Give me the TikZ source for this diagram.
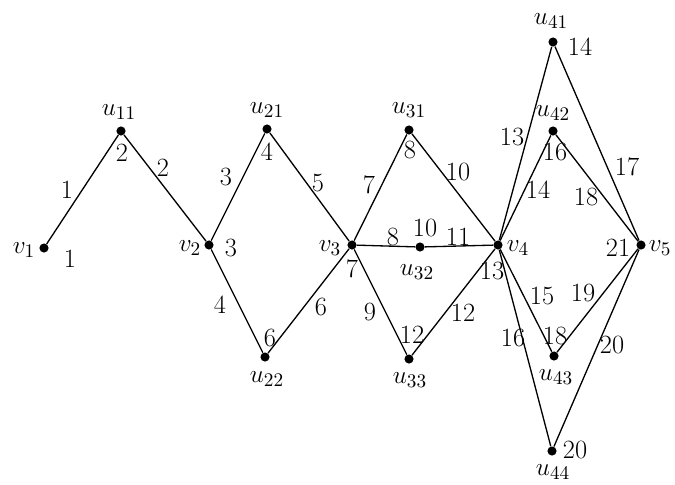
\documentclass[tikz,border=0pt]{standalone}
\usepackage{amsmath}
\usetikzlibrary{positioning}
\tikzset{
    vtx/.style={circle, fill=black, inner sep=0pt, minimum size=5.2pt},
    vname/.style={font=\fontsize{15}{17}\selectfont, inner sep=0pt},
    num/.style={font=\fontsize{15}{17}\selectfont, inner sep=0pt},
    lnk/.style={line width=0.75pt},
}

\begin{document}
\begin{tikzpicture}[x=0.02cm, y=-0.02cm]
    \useasboundingbox (0,0) rectangle (675,484);

    % vertices
    \node[vtx] (v1) at (44,248) {};
    \node[vtx] (u11) at (121,131) {};
    \node[vtx] (v2) at (209,245) {};
    \node[vtx] (u21) at (267,129) {};
    \node[vtx] (u22) at (265,357) {};
    \node[vtx] (v3) at (352,245) {};
    \node[vtx] (u31) at (409,130) {};
    \node[vtx] (u32) at (420,247) {};
    \node[vtx] (u33) at (409,359) {};
    \node[vtx] (v4) at (498,245) {};
    \node[vtx] (u41) at (553,42) {};
    \node[vtx] (u42) at (553,131) {};
    \node[vtx] (u43) at (554,356) {};
    \node[vtx] (u44) at (552,451) {};
    \node[vtx] (v5) at (641,245) {};

    % edges
    \draw[lnk] (v1) -- (u11) -- (v2);
    \draw[lnk] (v2) -- (u21) -- (v3);
    \draw[lnk] (v2) -- (u22) -- (v3);
    \draw[lnk] (v3) -- (u31) -- (v4);
    \draw[lnk] (v3) -- (u32) -- (v4);
    \draw[lnk] (v3) -- (u33) -- (v4);
    \draw[lnk] (v4) -- (u41) -- (v5);
    \draw[lnk] (v4) -- (u42) -- (v5);
    \draw[lnk] (v4) -- (u43) -- (v5);
    \draw[lnk] (v4) -- (u44) -- (v5);

    % vertex names
    \node[vname] (nv1) at (24,250) {$v_1$};
    \node[vname] (nu11) at (119,112) {$u_{11}$};
    \node[vname] (nv2) at (190,248) {$v_2$};
    \node[vname] (nu21) at (267,110) {$u_{21}$};
    \node[vname] (nu22) at (267,379) {$u_{22}$};
    \node[vname] (nv3) at (330,248) {$v_3$};
    \node[vname] (nu31) at (409,110) {$u_{31}$};
    \node[vname] (nu32) at (417,272) {$u_{32}$};
    \node[vname] (nu33) at (410,380) {$u_{33}$};
    \node[vname] (nv4) at (518,248) {$v_4$};
    \node[vname] (nu41) at (551,21) {$u_{41}$};
    \node[vname] (nu42) at (553,113) {$u_{42}$};
    \node[vname] (nu43) at (556,377) {$u_{43}$};
    \node[vname] (nu44) at (553,472) {$u_{44}$};
    \node[vname] (nv5) at (660,248) {$v_5$};

    % vertex numbers
    \node[num] (a1) at (70,259) {1};
    \node[num] (a2) at (122,153) {2};
    \node[num] (a3) at (231,248) {3};
    \node[num] (a4) at (267,152) {4};
    \node[num] (a6) at (270,338) {6};
    \node[num] (a7) at (352,269) {7};
    \node[num] (a8) at (410,150) {8};
    \node[num] (a10) at (425,228) {10};
    \node[num] (a12) at (412,335) {12};
    \node[num] (a13) at (492,271) {13};
    \node[num] (a14) at (580,47) {14};
    \node[num] (a16) at (555,152) {16};
    \node[num] (a18) at (555,336) {18};
    \node[num] (a20) at (575,450) {20};
    \node[num] (a21) at (618,248) {21};

    % edge numbers
    \node[num] (e1) at (67,190) {1};
    \node[num] (e2) at (163,168) {2};
    \node[num] (e3) at (226,177) {3};
    \node[num] (e4) at (220,305) {4};
    \node[num] (e5) at (318,183) {5};
    \node[num] (e6) at (321,307) {6};
    \node[num] (e7) at (369,185) {7};
    \node[num] (e8) at (393,237) {8};
    \node[num] (e9) at (370,312) {9};
    \node[num] (e10) at (458,172) {10};
    \node[num] (e11) at (458,237) {11};
    \node[num] (e12) at (463,313) {12};
    \node[num] (e13) at (512,137) {13};
    \node[num] (e14) at (538,190) {14};
    \node[num] (e15) at (542,296) {15};
    \node[num] (e16) at (513,338) {16};
    \node[num] (e17) at (627,167) {17};
    \node[num] (e18) at (586,197) {18};
    \node[num] (e19) at (583,293) {19};
    \node[num] (e20) at (612,345) {20};
\end{tikzpicture}
\end{document}
